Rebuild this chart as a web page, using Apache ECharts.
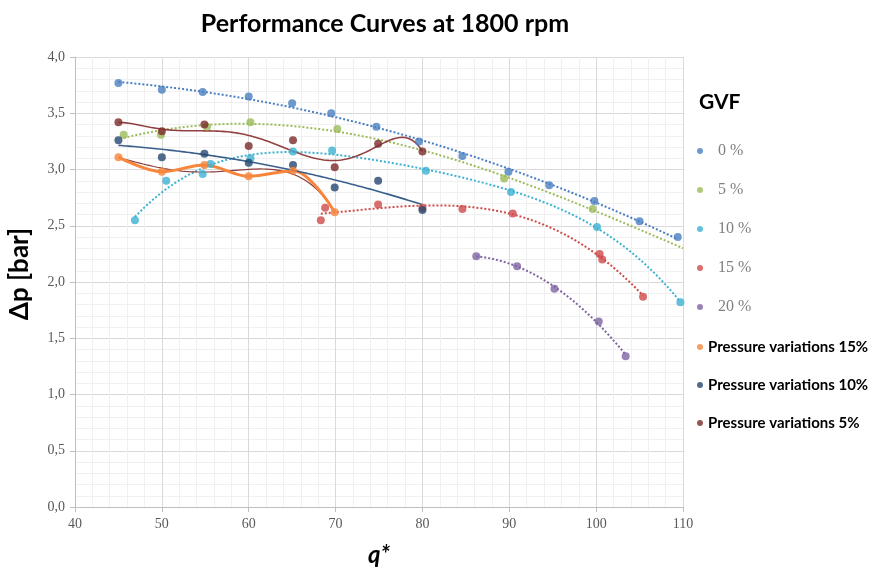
<!DOCTYPE html>
<html><head><meta charset="utf-8">
<script src="https://cdn.jsdelivr.net/npm/echarts@6/dist/echarts.min.js"></script>
<style>html,body{margin:0;padding:0;background:#fff}#c{width:875px;height:572px}</style>
</head><body><div id="c"></div>
<script>
// ---- data ----
const gvf0_x = [45, 50, 54.7, 60, 65, 69.5, 74.7, 79.6, 84.6, 89.9, 94.6, 99.8, 105, 109.4];
const gvf0_y = [3.77, 3.71, 3.69, 3.65, 3.59, 3.50, 3.38, 3.25, 3.12, 2.98, 2.86, 2.72, 2.54, 2.40];
const gvf5_x = [45.6, 49.9, 55.2, 60.2, 70.2, 89.4, 99.6];
const gvf5_y = [3.31, 3.31, 3.38, 3.42, 3.36, 2.92, 2.65];
const gvf10_x = [46.9, 50.5, 54.7, 55.6, 60.2, 65.1, 69.6, 80.4, 90.2, 100.1, 109.7];
const gvf10_y = [2.55, 2.90, 2.96, 3.05, 3.10, 3.16, 3.17, 2.99, 2.80, 2.49, 1.82];
const gvf15_x = [68.3, 68.8, 74.9, 80.0, 84.6, 90.4, 100.4, 100.7, 105.4];
const gvf15_y = [2.55, 2.66, 2.69, 2.66, 2.65, 2.61, 2.25, 2.20, 1.87];
const gvf20_x = [86.2, 90.9, 95.2, 100.3, 103.4];
const gvf20_y = [2.23, 2.14, 1.94, 1.65, 1.34];
const p15_x = [45, 50, 54.9, 60, 65.1, 69.9];
const p15_y = [3.11, 2.98, 3.04, 2.94, 2.99, 2.62];
const p10_x = [45, 50, 54.9, 60, 65.1, 69.9, 74.9, 80];
const p10_y = [3.26, 3.11, 3.14, 3.06, 3.04, 2.84, 2.90, 2.64];
const p5_x = [45, 50, 54.9, 60, 65.1, 69.9, 74.9, 80];
const p5_y = [3.42, 3.34, 3.40, 3.21, 3.26, 3.02, 3.23, 3.16];
const gvfNames = ['0 %', '5 %', '10 %', '15 %', '20 %'];
const pNames = ['Pressure variations 15%', 'Pressure variations 10%', 'Pressure variations 5%'];
const xTicks = {min: 40, max: 110, interval: 10};
const yTicks = {min: 0, max: 4, interval: 0.5};

// ---- polynomial least-squares trendline (like Excel) ----
function polyFit(xs, ys, order) {
  const mx = xs.reduce((a, b) => a + b, 0) / xs.length;
  const sx = (Math.max(...xs) - Math.min(...xs)) / 2 || 1;
  const n = order + 1;
  const A = Array.from({length: n}, () => new Array(n + 1).fill(0));
  xs.forEach((x, k) => {
    const t = (x - mx) / sx;
    for (let i = 0; i < n; i++) {
      for (let j = 0; j < n; j++) A[i][j] += Math.pow(t, i + j);
      A[i][n] += Math.pow(t, i) * ys[k];
    }
  });
  for (let i = 0; i < n; i++) {
    let p = i;
    for (let r = i + 1; r < n; r++) if (Math.abs(A[r][i]) > Math.abs(A[p][i])) p = r;
    [A[i], A[p]] = [A[p], A[i]];
    for (let r = 0; r < n; r++) {
      if (r === i) continue;
      const f = A[r][i] / A[i][i];
      for (let c = i; c <= n; c++) A[r][c] -= f * A[i][c];
    }
  }
  const coef = A.map((row, i) => row[n] / row[i]);
  return x => { const t = (x - mx) / sx; return coef.reduce((s, c, i) => s + c * Math.pow(t, i), 0); };
}
function trend(xs, ys, order, x0, x1) {
  const f = polyFit(xs, ys, order);
  const pts = [];
  const steps = 120;
  for (let i = 0; i <= steps; i++) { const x = x0 + (x1 - x0) * i / steps; pts.push([x, f(x)]); }
  return pts;
}
const zip = (xs, ys) => xs.map((x, i) => [x, ys[i]]);

const colors = {
  g0: '#4a7fc1', g5: '#9bbb59', g10: '#3cb2d2', g15: '#cf4a4a', g20: '#8064a2',
  p15: '#f7863c', p10: '#24466e', p5: '#7a2a2a'
};

function scatter(name, xs, ys, color) {
  return {name, type: 'scatter', data: zip(xs, ys), symbol: 'circle', symbolSize: 8,
    itemStyle: {color}, z: 5};
}
function dotted(name, pts, color) {
  return {name, type: 'line', data: pts, showSymbol: false, symbol: 'none', silent: true,
    lineStyle: {color, width: 2, type: [2, 2]}, z: 3};
}
function solid(name, pts, color, width, smooth) {
  return {name, type: 'line', data: pts, showSymbol: false, symbol: 'none', silent: true,
    smooth: smooth || false, lineStyle: {color, width}, z: 4};
}

const series = [
  dotted('t0', trend(gvf0_x, gvf0_y, 2, 45, 109.4), colors.g0),
  dotted('t5', trend(gvf5_x, gvf5_y, 3, 45.6, 110), colors.g5),
  dotted('t10', trend(gvf10_x, gvf10_y, 4, 46.9, 109.7), colors.g10),
  dotted('t15', trend(gvf15_x, gvf15_y, 3, 68.3, 105.4), colors.g15),
  dotted('t20', trend(gvf20_x, gvf20_y, 2, 86.2, 103.4), colors.g20),
  solid('tp15', trend(p15_x, p15_y, 4, 45, 69.4), '#8a3b3b', 1.2),
  solid('lp15', zip(p15_x, p15_y), colors.p15, 3, 0.35),
  solid('tp10', trend(p10_x, p10_y, 2, 45, 80), '#3a5f8a', 1.6),
  solid('tp5', trend(p5_x, p5_y, 6, 45, 80), '#934040', 1.6),
  scatter(gvfNames[0], gvf0_x, gvf0_y, colors.g0),
  scatter(gvfNames[1], gvf5_x, gvf5_y, colors.g5),
  scatter(gvfNames[2], gvf10_x, gvf10_y, colors.g10),
  scatter(gvfNames[3], gvf15_x, gvf15_y, colors.g15),
  scatter(gvfNames[4], gvf20_x, gvf20_y, colors.g20),
  scatter(pNames[2], p5_x, p5_y, colors.p5),
  scatter(pNames[1], p10_x, p10_y, colors.p10),
  scatter(pNames[0], p15_x, p15_y, colors.p15)
];

const chart = echarts.init(document.getElementById('c'), null, {renderer: 'canvas'});
chart.setOption({
  animation: false,
  backgroundColor: '#fff',
  title: {text: 'Performance Curves at 1800 rpm', left: 380, textAlign: 'center', top: 6,
    textStyle: {fontFamily: 'Lato', fontWeight: 'bold', fontSize: 25, color: '#000'}},
  graphic: [
    {type: 'text', left: 699, top: 92,
      style: {text: 'GVF', font: 'bold 21px Lato', fill: '#000'}},
    {type: 'text', x: 20, y: 274, rotation: Math.PI / 2,
      style: {text: 'Δp [bar]', font: 'bold 26px Lato', fill: '#000', align: 'center', verticalAlign: 'middle'}}
  ],
  legend: [
    {data: gvfNames, orient: 'vertical', left: 692, top: 138, itemGap: 23, icon: 'circle',
      itemWidth: 6, itemHeight: 6, selectedMode: false,
      textStyle: {fontFamily: 'Liberation Serif', fontSize: 16, color: '#7f7f7f', lineHeight: 16,
        padding: [0, 0, 0, 10]}},
    {data: pNames, orient: 'vertical', left: 692, top: 334, itemGap: 22, icon: 'circle',
      itemWidth: 6, itemHeight: 6, selectedMode: false,
      textStyle: {fontFamily: 'Lato', fontWeight: 'bold', fontSize: 15, color: '#000', lineHeight: 16}}
  ],
  grid: {left: 75, right: 192, top: 57, bottom: 59, containLabel: false},
  xAxis: {type: 'value', min: xTicks.min, max: xTicks.max, interval: xTicks.interval,
    name: 'q*', nameLocation: 'middle', nameGap: 36,
    nameTextStyle: {fontFamily: 'Lato', fontStyle: 'italic', fontWeight: 'bold', fontSize: 24, color: '#000'},
    axisLine: {onZero: false, lineStyle: {color: '#bfbfbf'}},
    axisTick: {show: true, length: 5, lineStyle: {color: '#bfbfbf'}},
    axisLabel: {fontFamily: 'Liberation Serif', fontSize: 14, color: '#595959', margin: 10},
    splitLine: {show: true, lineStyle: {color: '#d9d9d9'}},
    minorTick: {show: false, splitNumber: 5},
    minorSplitLine: {show: true, lineStyle: {color: '#f0f0f0'}}},
  yAxis: {type: 'value', min: yTicks.min, max: yTicks.max, interval: yTicks.interval,
    axisLine: {show: true, lineStyle: {color: '#bfbfbf'}},
    axisTick: {show: true, length: 5, lineStyle: {color: '#bfbfbf'}},
    axisLabel: {fontFamily: 'Liberation Serif', fontSize: 14, color: '#595959', margin: 10,
      formatter: v => v.toFixed(1).replace('.', ',')},
    splitLine: {show: true, lineStyle: {color: '#d9d9d9'}},
    minorTick: {show: false, splitNumber: 5},
    minorSplitLine: {show: true, lineStyle: {color: '#f0f0f0'}}},
  series
});
</script></body></html>
